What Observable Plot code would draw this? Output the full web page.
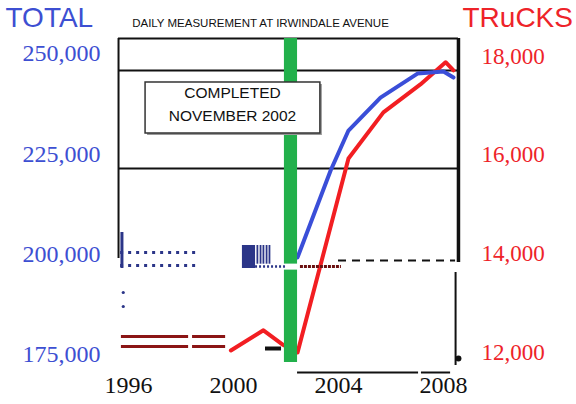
<!DOCTYPE html>
<html>
<head>
<meta charset="utf-8">
<script src="https://cdn.jsdelivr.net/npm/d3@7"></script>
<script src="https://cdn.jsdelivr.net/npm/@observablehq/plot@0.6"></script>
<style>
  html, body { margin: 0; padding: 0; background: white; }
</style>
</head>
<body>
<div id="chart"></div>
<script>
// ---- data ----
const totalTicks = [175000, 200000, 225000, 250000];
const truckTicks = [12000, 14000, 16000, 18000];
const yearTicks = [1996, 2000, 2004, 2008];

const totalYears  = [2002.44, 2003.70, 2004.38, 2005.60, 2007.01, 2008.00, 2008.38];
const totalValues = [199200, 220850, 230800, 239000, 245000, 245500, 244000];

const truckYears  = [1999.9, 2001.14, 2001.9, 2002.44, 2004.38, 2005.71, 2007.12, 2008.08, 2008.38];
const truckValues = [12040, 12450, 12150, 12000, 15930, 16865, 17430, 17880, 17715];

const titleLeft = "TOTAL";
const titleRight = "TRuCKS";
const subtitle = "DAILY MEASUREMENT AT IRWINDALE AVENUE";
const noteLines = ["COMPLETED", "NOVEMBER 2002"];
const noteLineY = [240033, 234302];
const noteX = 1999.96;
const noteBox = [{x1: 1996.65, x2: 2003.31, y1: 230066, y2: 242775}];

const gridLevels = [253737, 245764, 221346];
const greenBand = [{x1: 2001.94, x2: 2002.44, y1: 173007, y2: 253737}];

// leftover marks seen on the chart
const blueDotRows = [200415, 197176];
const blueBlock = [{x1: 2000.34, x2: 2000.84, y1: 196430, y2: 202160}];
const blueStripes = [2000.91, 2001.03, 2001.14, 2001.26, 2001.37];
const redDoubleRows = [179485, 176993];
const redDoubleSpans = [[1995.73, 1998.29], [1998.44, 1999.70]];

// ---- helpers ----
const truckToTotal = t => 175500 + (t - 12000) * 12.3;
const totalToTruck = v => Math.round(((v - 175500) / 12.3 + 12000) / 1000) * 1000;

const totalData = totalYears.map((x, i) => ({x, y: totalValues[i]}));
const truckData = truckYears.map((x, i) => ({x, y: truckToTotal(truckValues[i])}));
const gridData = gridLevels.map(y => ({y, x1: 1995.62, x2: 2008.57}));
const blueRowData = blueDotRows.map(y => ({y, x1: 1995.7, x2: 1998.63}));
const redDoubleData = redDoubleRows.flatMap(y => redDoubleSpans.map(([x1, x2]) => ({y, x1, x2})));
const noteData = noteLines.map((t, i) => ({t, x: noteX, y: noteLineY[i]}));

const BLUE = "#3d4fd2";
const RED = "#ee2329";
const LBLUE = "#3a4ed8";
const LRED = "#f21e22";
const NAVY = "#2b3588";
const MAROON = "#8b1515";
const SERIF = "'Liberation Serif', 'DejaVu Serif', serif";
const SANS = "'Liberation Sans', Arial, sans-serif";

const chart = Plot.plot({
  width: 576,
  height: 404,
  marginTop: 38,
  marginBottom: 32,
  marginLeft: 118,
  marginRight: 118,
  x: {domain: [1996, 2008], range: [128, 443]},
  y: {domain: [175000, 250000], range: [354, 53]},
  style: {fontFamily: SERIF, background: "white"},
  marks: [
    // grid / frame
    Plot.ruleY(gridData, {y: "y", x1: "x1", x2: "x2", stroke: "#111", strokeWidth: 2}),
    Plot.ruleX([1995.62], {y1: 198920, y2: 253737, stroke: "#111", strokeWidth: 2}),
    Plot.ruleX([2008.57], {y1: 197924, y2: 253737, stroke: "#111", strokeWidth: 3.5}),
    Plot.ruleX([2008.46], {y1: 172259, y2: 195432, stroke: "#111", strokeWidth: 2}),
    Plot.ruleY([{x1: 2002.44, x2: 2007.05}, {x1: 2007.16, x2: 2008.27}], {y: 170515, x1: "x1", x2: "x2", stroke: "#111", strokeWidth: 2}),
    Plot.dot([{x: 2008.57, y: 174003}], {x: "x", y: "y", r: 3, fill: "#111"}),

    // data lines
    Plot.line(truckData, {x: "x", y: "y", stroke: LRED, strokeWidth: 4}),
    Plot.line(totalData, {x: "x", y: "y", stroke: LBLUE, strokeWidth: 4}),

    // completion band
    Plot.rect(greenBand, {x1: "x1", x2: "x2", y1: "y1", y2: "y2", fill: "#22b04b"}),
    Plot.ruleY([{x1: 2001.9, x2: 2002.55}], {y: 196900, x1: "x1", x2: "x2", stroke: "white", strokeWidth: 6}),

    // leftover marks
    Plot.ruleY(blueRowData, {y: "y", x1: "x1", x2: "x2", stroke: NAVY, strokeWidth: 3, strokeDasharray: "3,5"}),
    Plot.ruleX([1995.75], {y1: 196429, y2: 205400, stroke: NAVY, strokeWidth: 3}),
    Plot.dot([{x: 1995.8, y: 190449}, {x: 1995.8, y: 186960}], {x: "x", y: "y", r: 1.6, fill: NAVY}),
    Plot.rect(blueBlock, {x1: "x1", x2: "x2", y1: "y1", y2: "y2", fill: NAVY}),
    Plot.ruleX(blueStripes, {y1: 197500, y2: 202160, stroke: NAVY, strokeWidth: 1.8}),
    Plot.ruleY([{x1: 2000.84, x2: 2001.98}], {y: 196927, x1: "x1", x2: "x2", stroke: NAVY, strokeWidth: 2.5, strokeDasharray: "2,2"}),
    Plot.ruleY(redDoubleData, {y: "y", x1: "x1", x2: "x2", stroke: MAROON, strokeWidth: 3}),
    Plot.ruleY([{x1: 2002.55, x2: 2004.11}], {y: 196927, x1: "x1", x2: "x2", stroke: "#6b1010", strokeWidth: 3, strokeDasharray: "3,1"}),
    Plot.ruleY([{x1: 2004.0, x2: 2008.46}], {y: 198422, x1: "x1", x2: "x2", stroke: "#111", strokeWidth: 2, strokeDasharray: "8,6"}),
    Plot.ruleY([{x1: 2001.22, x2: 2001.83}], {y: 176495, x1: "x1", x2: "x2", stroke: "#111", strokeWidth: 4}),

    // annotation box
    Plot.rect(noteBox, {x1: "x1", x2: "x2", y1: "y1", y2: "y2", fill: "#999", dx: 2, dy: 2}),
    Plot.rect(noteBox, {x1: "x1", x2: "x2", y1: "y1", y2: "y2", fill: "white", stroke: "#333", strokeWidth: 1.5}),
    Plot.text(noteData, {x: "x", y: "y", text: "t", fontSize: 15.5, fontFamily: SANS, fill: "#111", lineAnchor: "middle"}),

    // axes
    Plot.axisY(totalTicks, {anchor: "left", tickSize: 0, tickPadding: 18, fontSize: 24, fontFamily: SERIF, color: BLUE, tickFormat: d3.format(","), label: null}),
    Plot.axisY(truckTicks.map(truckToTotal), {anchor: "right", tickSize: 0, tickPadding: 23, fontSize: 23, fontFamily: SERIF, color: RED, tickFormat: d => d3.format(",")(totalToTruck(d)), label: null}),
    Plot.axisX(yearTicks, {tickSize: 0, tickPadding: 3, fontSize: 24, fontFamily: SERIF, color: "#111", tickFormat: d => String(d), label: null}),

    // titles
    Plot.text([titleLeft], {frameAnchor: "top-left", dx: -113, dy: -31, textAnchor: "start", lineAnchor: "top", fontSize: 28, fontFamily: SANS, fill: BLUE}),
    Plot.text([titleRight], {frameAnchor: "top-right", dx: 4, dy: -31, textAnchor: "start", lineAnchor: "top", fontSize: 28, fontFamily: SANS, fill: RED}),
    Plot.text([subtitle], {frameAnchor: "top", dx: -28, dy: -20, textAnchor: "middle", lineAnchor: "top", fontSize: 11.5, fontFamily: SANS, fill: "#111"})
  ]
});
document.getElementById("chart").append(chart);
</script>
</body>
</html>
